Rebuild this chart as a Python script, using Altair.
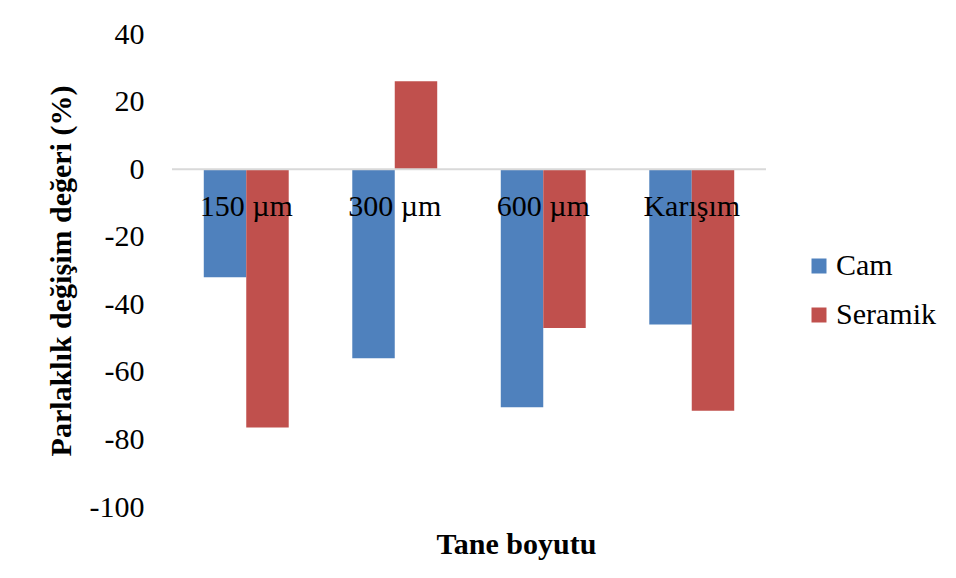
import altair as alt
import pandas as pd

# Grain-size groups and the two series (glass / ceramic)
categories = ["150 µm", "300 µm", "600 µm", "Karışım"]
series = ["Cam", "Seramik"]
cam = [-32, -56, -70.5, -46]
seramik = [-76.5, 26, -47, -71.5]
colors = ["#4F81BD", "#C0504D"]
y_ticks = [-100, -80, -60, -40, -20, 0, 20, 40]

rows = []
for cat, c_val, s_val in zip(categories, cam, seramik):
    rows.append({"Tane boyutu": cat, "Seri": "Cam", "Değer": c_val, "Taban": 0})
    rows.append({"Tane boyutu": cat, "Seri": "Seramik", "Değer": s_val, "Taban": 0})
df = pd.DataFrame(rows)
cat_df = pd.DataFrame({"Tane boyutu": categories, "Taban": [0] * len(categories)})

FONT = "Liberation Serif, Times New Roman, serif"

x_scale = alt.Scale(domain=categories, paddingInner=0.428, paddingOuter=0.214)
y_scale = alt.Scale(domain=[-100, 40], nice=False, zero=False)

x_axis = alt.Axis(
    labels=False, ticks=False, domain=False, grid=False,
    title="Tane boyutu", titleFont=FONT, titleFontSize=30, titleFontWeight="bold",
    titleX=344, titleY=46, titleBaseline="alphabetic",
)
y_axis = alt.Axis(
    values=y_ticks, labelExpr="datum.value + ''",
    labelFont=FONT, labelFontSize=30, labelPadding=28, labelColor="black",
    ticks=False, domain=False, grid=False,
    title="Parlaklık değişim değeri (%)", titleFont=FONT, titleFontSize=30,
    titleFontWeight="bold", titleX=-111, titleBaseline="middle",
)

bars = alt.Chart(df).mark_bar().encode(
    x=alt.X("Tane boyutu:N", scale=x_scale, sort=categories, axis=x_axis),
    xOffset=alt.XOffset("Seri:N", scale=alt.Scale(domain=series, paddingInner=0, paddingOuter=0)),
    y=alt.Y("Değer:Q", scale=y_scale, axis=y_axis),
    y2="Taban:Q",
    color=alt.Color(
        "Seri:N",
        scale=alt.Scale(domain=series, range=colors),
        legend=alt.Legend(
            title=None, orient="none", legendX=632, legendY=217,
            symbolType="square", symbolSize=225, symbolStrokeWidth=0,
            labelFont=FONT, labelFontSize=30, labelColor="black",
            labelOffset=2, rowPadding=19, padding=0,
        ),
    ),
)

# horizontal category axis line drawn at zero
zero_line = alt.Chart(cat_df.head(1)).mark_rule(color="#d9d9d9", strokeWidth=2).encode(
    y=alt.Y("Taban:Q", scale=y_scale, axis=y_axis)
)

# category names sit just under the zero line
labels = alt.Chart(cat_df).mark_text(
    font=FONT, fontSize=30, color="black", baseline="middle", dy=38
).encode(
    x=alt.X("Tane boyutu:N", scale=x_scale, sort=categories, axis=x_axis),
    y=alt.Y("Taban:Q", scale=y_scale, axis=y_axis),
    text="Tane boyutu:N",
)

chart = (
    alt.layer(bars, zero_line, labels)
    .properties(
        width=594,
        height=473,
        autosize=alt.AutoSizeParams(type="none"),
        padding={"left": 172, "top": 34, "right": 190, "bottom": 71},
        background="white",
    )
    .configure(font=FONT)
    .configure_axis(labelFont=FONT, titleFont=FONT, labelColor="black", titleColor="black")
    .configure_legend(labelFont=FONT, labelColor="black")
    .configure_text(font=FONT)
    .configure_view(stroke=None)
)

chart.save("out.html", embed_options={"renderer": "svg", "actions": False})
